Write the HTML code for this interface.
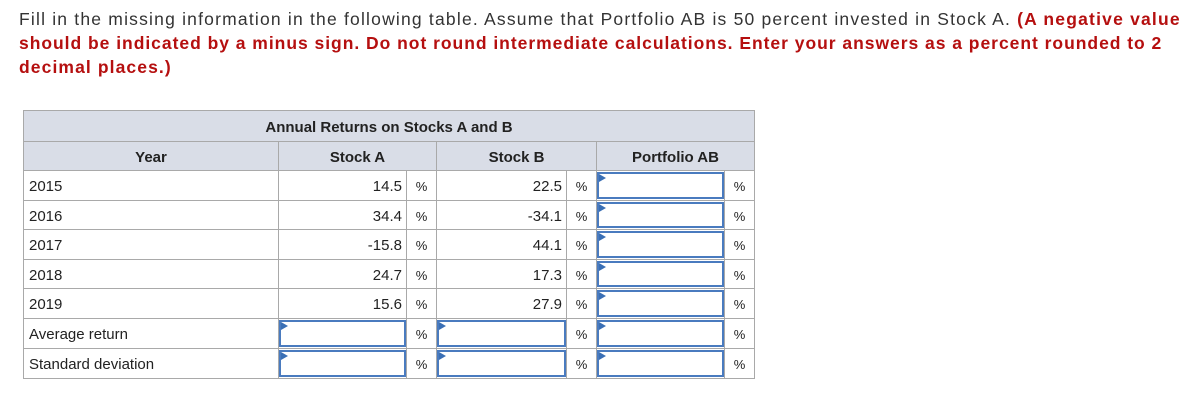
<!DOCTYPE html>
<html><head><meta charset="utf-8">
<style>
body{margin:0;width:1195px;height:406px;background:#fff;position:relative;overflow:hidden;font-family:"Liberation Sans",Arial,sans-serif;}
.intro{position:absolute;left:19px;top:7px;font-size:17.5px;line-height:24px;color:#333;white-space:nowrap;}
.intro div{height:24px;}
.intro b{color:#b50f0f;}
.c{position:absolute;box-sizing:border-box;border:1px solid #a9a9a9;font-size:15px;color:#222;white-space:nowrap;}
.h{background:#d9dde7;font-weight:bold;text-align:center;}
.v{text-align:right;padding-right:4px;}
.p{text-align:center;font-size:13px;}
.l{padding-left:5px;}
.in{position:absolute;box-sizing:border-box;border:2px solid #4a7bbf;background:#fff;}
.in::before{content:"";position:absolute;left:0;top:0;border-left:7px solid #3a6fb5;border-top:4px solid transparent;border-bottom:4px solid transparent;}
</style></head><body>
<div class="intro">
<div style="letter-spacing:1.2px">Fill in the missing information in the following table. Assume that Portfolio AB is 50 percent invested in Stock A. <b>(A negative value</b></div>
<div style="letter-spacing:0.97px"><b>should be indicated by a minus sign. Do not round intermediate calculations. Enter your answers as a percent rounded to 2</b></div>
<div style="letter-spacing:1.1px"><b>decimal places.)</b></div>
</div>
<div id="tbl"></div>
<script>
const years=["2015","2016","2017","2018","2019","Average return","Standard deviation"];
const stockA=["14.5","34.4","-15.8","24.7","15.6",null,null];
const stockB=["22.5","-34.1","44.1","17.3","27.9",null,null];
const T=document.getElementById('tbl');
function cell(x,y,w,h,cls,txt,name,inter){
  const d=document.createElement('div');
  d.className='c '+cls;
  d.style.cssText=`left:${x}px;top:${y}px;width:${w+1}px;height:${h+1}px;line-height:${h+2}px;`;
  if(txt!==null)d.textContent=txt;
  
  
  T.appendChild(d);return d;
}
function input(x,y,w,h,name){
  const d=document.createElement('div');
  d.className='in';
  d.style.cssText=`left:${x+1}px;top:${y+2}px;width:${w-1}px;height:${h-3}px;`;
  
  
  T.appendChild(d);
}
const X=[23,278,406,436,566,596,724,754];
cell(23,110,731,31,'h','Annual Returns on Stocks A and B','header-title',false);
cell(23,141,255,29,'h','Year','year-header',false);
cell(278,141,158,29,'h','Stock A','stock-a-header',false);
cell(436,141,160,29,'h','Stock B','stock-b-header',false);
cell(596,141,158,29,'h','Portfolio AB','portfolio-ab-header',false);
const rowY=[170,200,229,259,288,318,348,378];
years.forEach((yr,i)=>{
  const y=rowY[i],h=rowY[i+1]-y;
  cell(X[0],y,X[1]-X[0],h,'l',yr,'row-label',false);
  const cols=[stockA[i],stockB[i],null];
  for(let k=0;k<3;k++){
    const x0=X[1+2*k],x1=X[2+2*k],x2=X[3+2*k];
    cell(x0,y,x1-x0,h,'v',cols[k]===null?'':cols[k],'value-cell',false);
    if(cols[k]===null)input(x0,y,x1-x0,h,'answer-input');
    cell(x1,y,x2-x1,h,'p','%','percent-sign',false);
  }
});
</script>
</body></html>
